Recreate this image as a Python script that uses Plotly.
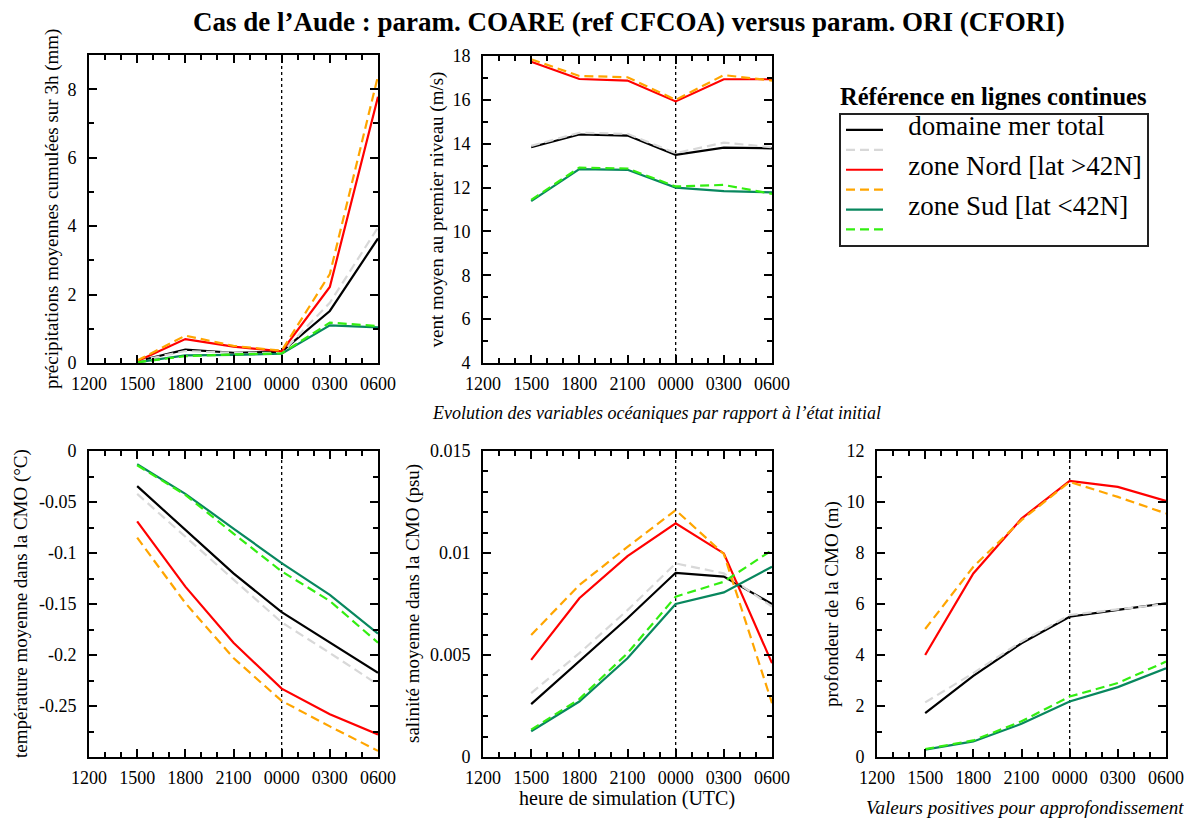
import plotly.graph_objects as go

# ---------------- data ----------------
hour_labels = ["1200", "1500", "1800", "2100", "0000", "0300", "0600"]
data_hours = ["1500", "1800", "2100", "0000", "0300", "0600"]
split_hour = "0000"

series_names = ["domaine mer total", "zone Nord [lat >42N]", "zone Sud [lat <42N]"]

# precipitations moyennes cumulées sur 3h (mm)
precip_total_coa = [0.05, 0.39, 0.30, 0.33, 1.52, 3.64]
precip_total_ori = [0.05, 0.35, 0.30, 0.30, 1.76, 3.96]
precip_nord_coa = [0.05, 0.70, 0.48, 0.34, 2.22, 7.78]
precip_nord_ori = [0.07, 0.80, 0.50, 0.36, 2.60, 8.39]
precip_sud_coa = [0.02, 0.22, 0.24, 0.27, 1.10, 1.04]
precip_sud_ori = [0.02, 0.20, 0.25, 0.28, 1.18, 1.08]

# vent moyen au premier niveau (m/s)
wind_total_coa = [13.84, 14.42, 14.37, 13.49, 13.82, 13.79]
wind_total_ori = [13.90, 14.50, 14.45, 13.57, 14.05, 13.84]
wind_nord_coa = [17.74, 16.95, 16.88, 15.93, 16.94, 16.94]
wind_nord_ori = [17.85, 17.09, 17.03, 16.00, 17.13, 16.88]
wind_sud_coa = [11.38, 12.84, 12.81, 12.00, 11.84, 11.78]
wind_sud_ori = [11.44, 12.91, 12.87, 12.05, 12.12, 11.71]

# température moyenne dans la CMO (°C)
temp_total_coa = [-0.0345, -0.077, -0.120, -0.158, -0.188, -0.2175]
temp_total_ori = [-0.042, -0.084, -0.126, -0.168, -0.198, -0.229]
temp_nord_coa = [-0.069, -0.133, -0.188, -0.233, -0.258, -0.278]
temp_nord_ori = [-0.085, -0.149, -0.203, -0.245, -0.270, -0.294]
temp_sud_coa = [-0.013, -0.042, -0.076, -0.110, -0.141, -0.179]
temp_sud_ori = [-0.014, -0.043, -0.081, -0.118, -0.147, -0.188]

# salinité moyenne dans la CMO (psu)
sal_total_coa = [0.00259, 0.00468, 0.00680, 0.00903, 0.00884, 0.00750]
sal_total_ori = [0.00313, 0.00509, 0.00720, 0.00949, 0.00900, 0.00737]
sal_nord_coa = [0.00476, 0.00778, 0.00985, 0.01145, 0.00998, 0.00460]
sal_nord_ori = [0.00598, 0.00843, 0.01030, 0.01210, 0.00995, 0.00264]
sal_sud_coa = [0.00126, 0.00272, 0.00484, 0.00750, 0.00807, 0.00933]
sal_sud_ori = [0.00134, 0.00284, 0.00509, 0.00786, 0.00859, 0.01014]

# profondeur de la CMO (m)
depth_total_coa = [1.72, 3.18, 4.46, 5.50, 5.77, 6.03]
depth_total_ori = [2.14, 3.29, 4.53, 5.57, 5.79, 6.00]
depth_nord_coa = [4.00, 7.20, 9.35, 10.83, 10.59, 10.04]
depth_nord_ori = [5.02, 7.46, 9.29, 10.79, 10.20, 9.55]
depth_sud_coa = [0.29, 0.61, 1.30, 2.18, 2.74, 3.48]
depth_sud_ori = [0.31, 0.65, 1.40, 2.37, 2.90, 3.74]

# ---------------- styling ----------------
PAGE_OFFSET = 8          # default body margin of the html page
W, H = 1192 - PAGE_OFFSET, 819 - PAGE_OFFSET
FONT = "Liberation Serif"
solid_colors = ["#000000", "#ff0000", "#08875e"]
dash_colors = ["#d8d8d8", "#ffa500", "#33ee11"]
DASH = "9px,5px"

def px_x(p):
    return (p - PAGE_OFFSET) / W

def px_y(p):
    return 1 - (p - PAGE_OFFSET) / H

xpos = [hour_labels.index(h) for h in data_hours]
split_pos = hour_labels.index(split_hour)

panels = [
    dict(ax="", xd=(89, 378), yd=(55, 363),
         series=[precip_total_coa, precip_total_ori, precip_nord_coa, precip_nord_ori, precip_sud_coa, precip_sud_ori],
         yr=[0, 9], tv=[0, 2, 4, 6, 8], tt=["0", "2", "4", "6", "8"], minor=1,
         title="précipitations moyennes cumulées sur 3h (mm)", tx=52),
    dict(ax="2", xd=(483, 772), yd=(56, 363),
         series=[wind_total_coa, wind_total_ori, wind_nord_coa, wind_nord_ori, wind_sud_coa, wind_sud_ori],
         yr=[4, 18], tv=[4, 6, 8, 10, 12, 14, 16, 18], tt=["4", "6", "8", "10", "12", "14", "16", "18"], minor=1,
         title="vent moyen au premier niveau (m/s)", tx=437),
    dict(ax="3", xd=(89, 378), yd=(451, 757),
         series=[temp_total_coa, temp_total_ori, temp_nord_coa, temp_nord_ori, temp_sud_coa, temp_sud_ori],
         yr=[-0.3, 0], tv=[0, -0.05, -0.1, -0.15, -0.2, -0.25], tt=["0", "-0.05", "-0.1", "-0.15", "-0.2", "-0.25"],
         minor=0.025, title="température moyenne dans la CMO (°C)", tx=21),
    dict(ax="4", xd=(483, 772), yd=(451, 757),
         series=[sal_total_coa, sal_total_ori, sal_nord_coa, sal_nord_ori, sal_sud_coa, sal_sud_ori],
         yr=[0, 0.015], tv=[0, 0.005, 0.01, 0.015], tt=["0", "0.005", "0.01", "0.015"], minor=0.001,
         title="salinité moyenne dans la CMO (psu)", tx=413),
    dict(ax="5", xd=(877, 1166), yd=(451, 757),
         series=[depth_total_coa, depth_total_ori, depth_nord_coa, depth_nord_ori, depth_sud_coa, depth_sud_ori],
         yr=[0, 12], tv=[0, 2, 4, 6, 8, 10, 12], tt=["0", "2", "4", "6", "8", "10", "12"], minor=1,
         title="profondeur de la CMO (m)", tx=832),
]

fig = go.Figure()
layout = {}
annotations = []
shapes = []

axis_common = dict(
    showline=True, linecolor="black", linewidth=2, mirror="allticks",
    ticks="inside", ticklen=8, tickwidth=1.5, tickcolor="black",
    showgrid=False, zeroline=False, automargin=False,
    tickfont=dict(family=FONT, size=18, color="black"),
)

for pi, p in enumerate(panels):
    a = p["ax"]
    for si, yvals in enumerate(p["series"]):
        zone = si // 2
        is_dash = si % 2 == 1
        legend_name = ('<span style="font-size:27px">&nbsp;&nbsp;&nbsp;' + series_names[zone] + "</span>") if not is_dash else " "
        fig.add_trace(go.Scatter(
            x=xpos, y=yvals, mode="lines",
            xaxis="x" + a, yaxis="y" + a,
            line=dict(color=dash_colors[zone] if is_dash else solid_colors[zone],
                      width=2.2, dash=DASH if is_dash else "solid"),
            name=legend_name,
            showlegend=(pi == 0),
            hoverinfo="skip",
        ))
    layout["xaxis" + a] = dict(
        axis_common,
        domain=[px_x(p["xd"][0]), px_x(p["xd"][1])],
        anchor="y" + a, range=[0, len(hour_labels) - 1],
        tickvals=list(range(len(hour_labels))), ticktext=hour_labels,
        minor=dict(dtick=1 / 3, tick0=0, ticks="inside", ticklen=5, tickwidth=1.5, tickcolor="black"),
        ticklabelstandoff=3,
    )
    layout["yaxis" + a] = dict(
        axis_common,
        domain=[px_y(p["yd"][1]), px_y(p["yd"][0])],
        anchor="x" + a, range=p["yr"],
        tickvals=p["tv"], ticktext=p["tt"],
        minor=dict(dtick=p["minor"], tick0=0, ticks="inside", ticklen=5, tickwidth=1.5, tickcolor="black"),
        ticklabelstandoff=7,
    )
    shapes.append(dict(
        type="line", x0=split_pos, x1=split_pos, y0=0, y1=1,
        xref="x" + a, yref="y" + a + " domain",
        line=dict(color="black", width=1.3, dash="dot"), layer="below",
    ))
    annotations.append(dict(
        text=p["title"], textangle=-90, x=px_x(p["tx"]), y=px_y((p["yd"][0] + p["yd"][1]) / 2),
        xref="paper", yref="paper", showarrow=False, xanchor="center", yanchor="middle",
        font=dict(family=FONT, size=19, color="black"),
    ))

annotations += [
    dict(text="<b>Cas de l’Aude : param. COARE (ref CFCOA) versus param. ORI (CFORI)</b>",
         x=px_x(629), y=px_y(22), xref="paper", yref="paper", showarrow=False,
         xanchor="center", yanchor="middle", font=dict(family=FONT, size=27, color="black")),
    dict(text="<i>Evolution des variables océaniques par rapport à l’état initial</i>",
         x=px_x(656), y=px_y(413), xref="paper", yref="paper", showarrow=False,
         xanchor="center", yanchor="middle", font=dict(family=FONT, size=18, color="black")),
    dict(text="heure de simulation (UTC)",
         x=px_x(627), y=px_y(798), xref="paper", yref="paper", showarrow=False,
         xanchor="center", yanchor="middle", font=dict(family=FONT, size=20, color="black")),
    dict(text="<i>Valeurs positives pour approfondissement</i>",
         x=px_x(1025), y=px_y(807), xref="paper", yref="paper", showarrow=False,
         xanchor="center", yanchor="middle", font=dict(family=FONT, size=19, color="black")),
    dict(text="<b>Référence en lignes continues</b>",
         x=px_x(993), y=px_y(97), xref="paper", yref="paper", showarrow=False,
         xanchor="center", yanchor="middle", font=dict(family=FONT, size=24.5, color="black")),
]

fig.update_layout(
    **layout,
    annotations=annotations,
    shapes=shapes,
    width=W, height=H,
    margin=dict(l=0, r=0, t=0, b=0, autoexpand=False),
    paper_bgcolor="white", plot_bgcolor="white",
    font=dict(family=FONT, color="black"),
    showlegend=True,
    legend=dict(
        x=px_x(839), y=px_y(113), xanchor="left", yanchor="top",
        xref="paper", yref="paper",
        bordercolor="#222222", borderwidth=2, bgcolor="white",
        font=dict(family=FONT, size=13, color="black"),
        itemwidth=37, tracegroupgap=0, traceorder="normal",
    ),
)

fig.write_html("out.html")
